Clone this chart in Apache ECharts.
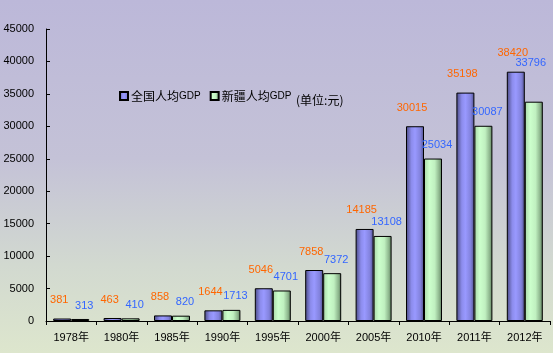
<!DOCTYPE html>
<html>
<head>
<meta charset="utf-8">
<script src="https://cdn.jsdelivr.net/npm/echarts@6/dist/echarts.min.js"></script>
<style>
html,body{margin:0;padding:0;}
#c{width:553px;height:353px;background:linear-gradient(to bottom,#bcb8d9 0%,#c4c2d7 45%,#d2d9d0 75%,#dde6cd 100%);}
</style>
</head>
<body>
<div id="c"></div>
<script>
const categories = ['1978年','1980年','1985年','1990年','1995年','2000年','2005年','2010年','2011年','2012年'];
const nationalGDP = [381, 463, 858, 1644, 5046, 7858, 14185, 30015, 35198, 38420];
const xinjiangGDP = [313, 410, 820, 1713, 4701, 7372, 13108, 25034, 30087, 33796];
const seriesNames = ['全国人均GDP', '新疆人均GDP'];
const yTicks = [0, 5000, 10000, 15000, 20000, 25000, 30000, 35000, 40000, 45000];

const chart = echarts.init(document.getElementById('c'), null, {renderer: 'canvas'});
const font = '"Liberation Sans", "Noto Sans CJK SC", sans-serif';
const blueGrad = new echarts.graphic.LinearGradient(0, 0, 1, 0, [
  {offset: 0, color: '#4a4a82'},
  {offset: 0.3, color: '#8c8cec'},
  {offset: 0.5, color: '#9999ff'},
  {offset: 0.8, color: '#8282dc'},
  {offset: 1, color: '#50508a'}
]);
const greenGrad = new echarts.graphic.LinearGradient(0, 0, 1, 0, [
  {offset: 0, color: '#a8d8a8'},
  {offset: 0.3, color: '#ccffcc'},
  {offset: 0.6, color: '#c0f0c0'},
  {offset: 0.85, color: '#8cb48c'},
  {offset: 1, color: '#5a7a5a'}
]);
// the last Xinjiang label sits higher in the original
const xjData = xinjiangGDP.map((v, i) => i === xinjiangGDP.length - 1
  ? {value: v, label: {offset: [-3, -28]}} : v);

chart.setOption({
  animation: false,
  backgroundColor: 'transparent',
  textStyle: {fontFamily: font},
  grid: {left: 46, right: 3, top: 29, bottom: 32, containLabel: false},
  legend: {
    left: 114, top: 85,
    icon: 'rect', itemWidth: 8, itemHeight: 8, itemGap: 9,
    formatter: n => '{a|' + n.slice(0, -3) + '}{b|GDP}',
    textStyle: {
      fontSize: 12, color: '#000', padding: [0, 0, 0, -2],
      rich: {
        a: {fontSize: 12, fontFamily: '"Noto Sans CJK SC", sans-serif', color: '#000'},
        b: {fontSize: 10, fontFamily: '"Liberation Sans", sans-serif', color: '#000'}
      }
    },
    data: seriesNames
  },
  graphic: [{
    type: 'text', left: 296, top: 94,
    style: {text: '(单位:元)', fill: '#000', font: '12px "Noto Sans CJK SC", sans-serif'}
  }],
  xAxis: {
    type: 'category', data: categories,
    axisLine: {lineStyle: {color: '#000', width: 1}},
    axisTick: {show: true, length: 4, lineStyle: {color: '#000'}},
    axisLabel: {color: '#000', fontSize: 11, margin: 11}
  },
  yAxis: {
    type: 'value', min: yTicks[0], max: yTicks[yTicks.length - 1], interval: yTicks[1] - yTicks[0],
    axisLine: {show: true, lineStyle: {color: '#000', width: 1}},
    axisTick: {show: true, inside: true, length: 4, lineStyle: {color: '#000'}},
    splitLine: {show: false},
    axisLabel: {color: '#000', fontSize: 11, margin: 12, formatter: v => String(v)}
  },
  series: [
    {
      name: seriesNames[0], type: 'bar', data: nationalGDP,
      barWidth: 18, barGap: '0%',
      itemStyle: {color: blueGrad, borderColor: '#000', borderWidth: 1},
      label: {show: true, position: 'top', color: '#ff6600', fontSize: 11, offset: [-3, -8]}
    },
    {
      name: seriesNames[1], type: 'bar', data: xjData,
      barWidth: 18, barGap: '0%',
      itemStyle: {color: greenGrad, borderColor: '#000', borderWidth: 1},
      label: {show: true, position: 'top', color: '#3366ff', fontSize: 11, offset: [4, -3]}
    }
  ]
});
</script>
</body>
</html>
